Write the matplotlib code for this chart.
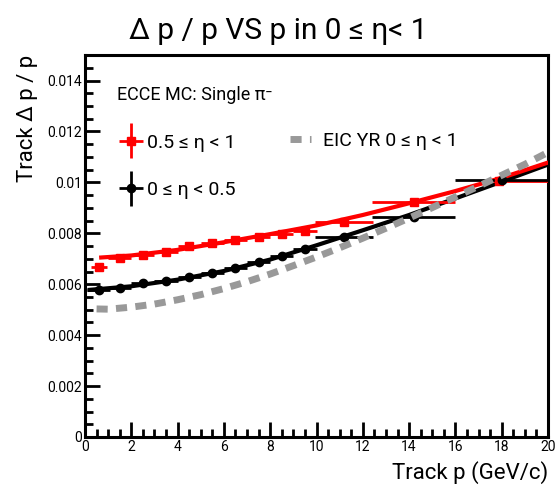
import matplotlib
matplotlib.use('Agg')
from matplotlib import pyplot as plt
from matplotlib.ticker import MultipleLocator, FixedFormatter, FixedLocator
from matplotlib.legend_handler import HandlerErrorbar

plt.rcParams['font.family'] = ['Roboto', 'DejaVu Sans']

# dados
# 0.5 <= eta < 1 (vermelho)
p_red = [0.6, 1.5, 2.5, 3.5, 4.5, 5.5, 6.5, 7.5, 8.5, 9.5, 11.2, 14.2, 17.9]
res_red = [0.00669, 0.00705, 0.00716, 0.00728, 0.00750, 0.00762, 0.00772,
           0.00786, 0.00797, 0.00810, 0.00845, 0.00923, 0.01005]
xlo_red = [0.35, 0.5, 0.5, 0.5, 0.5, 0.5, 0.5, 0.5, 0.5, 0.5, 1.25, 1.8, 0.5]
xhi_red = [0.35, 0.5, 0.5, 0.5, 0.5, 0.5, 0.5, 0.5, 0.5, 0.5, 1.25, 1.8, 2.1]

# 0 <= eta < 0.5 (preto)
p_blk = [0.6, 1.5, 2.5, 3.5, 4.5, 5.5, 6.5, 7.5, 8.5, 9.5, 11.2, 14.2, 18.0]
res_blk = [0.00578, 0.00587, 0.00604, 0.00614, 0.00628, 0.00643, 0.00665,
           0.00688, 0.00712, 0.00738, 0.00786, 0.00864, 0.01010]
xerr_blk = [0.5, 0.5, 0.5, 0.5, 0.5, 0.5, 0.5, 0.5, 0.5, 0.5, 1.25, 1.8, 2.0]

# curvas de ajuste
fit_p_red = [0.7, 2, 4, 6, 8, 10, 12, 14, 16, 18, 20]
fit_red = [0.00705, 0.00713, 0.00735, 0.00765, 0.00797, 0.00831, 0.00872,
           0.00918, 0.00966, 0.01018, 0.01078]
fit_p_blk = [0.2, 2, 4, 6, 8, 10, 12, 14, 16, 18, 20]
fit_blk = [0.00578, 0.00592, 0.00618, 0.00652, 0.00697, 0.00753, 0.00812,
           0.00872, 0.00937, 0.01003, 0.01070]

# EIC YR
p_yr = [0.5, 1, 2, 3, 4, 5, 6, 7, 8, 9, 10, 11, 12, 13, 14, 15, 16, 17, 18, 19, 20]
res_yr = [0.00503, 0.00502, 0.00510, 0.00522, 0.00539, 0.00559, 0.00583, 0.00610,
          0.00640, 0.00673, 0.00707, 0.00743, 0.00781, 0.00820, 0.00860, 0.00901,
          0.00943, 0.00985, 0.01028, 0.01071, 0.01118]

yticks = [0, 0.002, 0.004, 0.006, 0.008, 0.01, 0.012, 0.014]
ytick_labels = ['0', '0.002', '0.004', '0.006', '0.008', '0.01', '0.012', '0.014']

fig = plt.figure(figsize=(5.56, 4.92), dpi=100)
ax = fig.add_axes([0.1529, 0.1118, 0.8327, 0.7762])

ax.plot(fit_p_blk, fit_blk, color='black', lw=3, zorder=3)
ax.plot(fit_p_red, fit_red, color='red', lw=3, zorder=3)

h_red = ax.errorbar(p_red, res_red, xerr=[xlo_red, xhi_red], yerr=0.00012, fmt='s',
                    color='red', ms=6, elinewidth=2, capsize=0, zorder=4,
                    label='0.5 ≤ η < 1')
h_blk = ax.errorbar(p_blk, res_blk, xerr=xerr_blk, yerr=0.00008, fmt='o',
                    color='black', ms=6, elinewidth=2, capsize=0, zorder=4,
                    label='0 ≤ η < 0.5')
h_yr, = ax.plot(p_yr, res_yr, color='#999999', lw=5, ls=(0, (1.6, 1.2)), zorder=5,
                label='EIC YR 0 ≤ η < 1')

ax.set_xlim(0, 20)
ax.set_ylim(0, 0.015)
ax.xaxis.set_major_locator(MultipleLocator(2))
ax.xaxis.set_minor_locator(MultipleLocator(0.5))
ax.yaxis.set_major_locator(FixedLocator(yticks))
ax.yaxis.set_major_formatter(FixedFormatter(ytick_labels))
ax.yaxis.set_minor_locator(MultipleLocator(0.0005))
ax.tick_params(which='both', direction='in', top=False, right=False, width=2,
               labelsize=10, colors='black')
ax.tick_params(which='major', length=11, pad=2)
ax.tick_params(which='minor', length=6)
for s in ax.spines.values():
    s.set_linewidth(2.2)

ax.set_xlabel('Track p (GeV/c)', fontsize=16, loc='right', labelpad=5)
ax.set_ylabel('Track Δ p / p', fontsize=16, loc='top', labelpad=7)
fig.text(0.5, 0.937, 'Δ p / p VS p in 0 ≤ η< 1', ha='center', va='center', fontsize=21.5)

ax.text(0.069, 0.895, 'ECCE MC: Single π⁻', transform=ax.transAxes,
        fontsize=13, va='center')

hmap = {type(h_red): HandlerErrorbar(xerr_size=0.62, yerr_size=0.9)}
leg1 = ax.legend(handles=[h_red, h_blk], loc='upper left', bbox_to_anchor=(0.035, 0.84),
                 frameon=False, fontsize=14, handlelength=1.3, handletextpad=0.15,
                 labelspacing=1.5, handler_map=hmap)
ax.add_artist(leg1)
ax.legend(handles=[h_yr], loc='upper left', bbox_to_anchor=(0.405, 0.845),
          frameon=False, fontsize=14, handlelength=1.1, handletextpad=0.6)

fig.savefig('out.png', dpi=100)
